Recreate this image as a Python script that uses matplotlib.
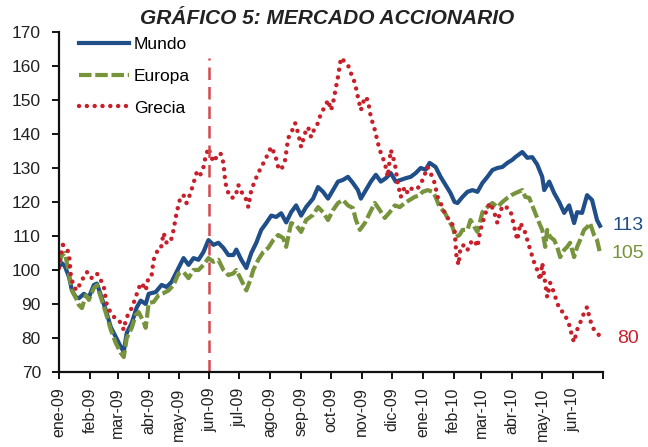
import matplotlib
matplotlib.use('Agg')
import matplotlib.pyplot as plt
import matplotlib.transforms as mtransforms
import numpy as np

plt.rcParams['font.family'] = ['Liberation Sans', 'DejaVu Sans']

# days counted from 01-ene-2009
mundo_day = [0, 3, 6, 10, 13, 17, 20, 25, 30, 35, 38, 42, 47, 52, 57, 62, 65, 68, 73, 78,
             82, 87, 90, 97, 103, 108, 113, 120, 125, 130, 135, 140, 145, 150, 155, 160,
             165, 170, 175, 178, 183, 188, 193, 198, 203, 208, 213, 218, 223, 228, 233, 238,
             243, 248, 255, 260, 265, 270, 275, 280, 285, 290, 295, 300, 303, 308, 313, 318,
             323, 328, 333, 338, 343, 348, 353, 358, 363, 368, 372, 378, 383, 388, 393, 397,
             400, 405, 410, 415, 420, 425, 430, 435, 440, 445, 450, 455, 458, 465, 470, 475,
             480, 485, 487, 492, 497, 502, 507, 512, 517, 520, 525, 530, 535, 540, 543]
mundo = [101, 102, 101, 98, 94, 92, 91.7, 93, 92, 95.6, 96, 92.6, 88.2, 83.2, 80.3, 77.4, 76,
         81.5, 84.4, 89, 91, 90, 93, 93.5, 95.6, 95, 96.5, 100.6, 103.5, 101.5, 103.5, 103,
         105.3, 108.8, 107.4, 108, 106.5, 104.4, 104.4, 106, 103, 100.6, 105, 108, 111.8,
         113.8, 116, 115.6, 116.7, 114, 117, 119, 116, 118.5, 121, 124.4, 123, 121, 123.5,
         126, 126.5, 127.4, 125.6, 123.5, 121, 123.5, 126, 128, 126, 127, 128.5, 126, 126.5,
         127, 127.4, 128.5, 130, 129.5, 131.5, 130.3, 127.4, 125, 122.6, 120, 119.7, 121.5,
         123, 123.5, 123, 125.6, 127.4, 129.4, 130, 130.3, 131.5, 132.4, 133.2, 134.7, 133,
         133.2, 131, 127.4, 123.5, 126, 122.6, 120, 116.8, 119, 113.8, 117, 116.8, 122,
         120.6, 114.7, 113]

europa_day = [0, 3, 6, 10, 13, 17, 20, 23, 27, 30, 35, 38, 42, 47, 52, 57, 62, 65, 68, 73,
              77, 80, 85, 87, 90, 95, 100, 105, 110, 115, 120, 125, 130, 135, 140, 145, 150,
              155, 160, 165, 170, 175, 178, 183, 188, 192, 195, 200, 205, 210, 215, 220, 225,
              228, 233, 238, 243, 248, 255, 260, 265, 270, 275, 280, 285, 290, 295, 298, 302,
              307, 312, 317, 322, 327, 332, 337, 342, 347, 352, 357, 362, 365, 370, 375, 378,
              382, 387, 390, 395, 398, 402, 405, 410, 413, 417, 420, 425, 430, 435, 440, 445,
              450, 454, 458, 465, 468, 472, 475, 478, 482, 485, 488, 490, 493, 497, 500, 503,
              507, 510, 513, 517, 520, 523, 527, 530, 533, 537, 540, 543]
europa = [102, 104.4, 105, 99, 94, 91.7, 89.7, 88.8, 92.6, 91.2, 94.7, 95.6, 92, 87.4, 82.4,
          78.5, 75.6, 74.4, 80, 83, 86.8, 87.6, 84.7, 83, 90.3, 90.6, 92.6, 93.2, 94, 95.6,
          99, 99.4, 97.6, 100, 100, 101.5, 103.5, 102.4, 103, 100, 98.5, 99, 100, 97, 94, 97,
          100, 103, 105.3, 106.5, 108.8, 110.3, 109.4, 106.8, 113.8, 113.2, 111.2, 114.7,
          116.2, 118.5, 117, 114.7, 117.6, 119.7, 120.6, 119, 118.2, 114.7, 111.8, 113.8,
          116.8, 119.7, 117.6, 115.3, 117, 119, 118.5, 119.7, 120.6, 121.5, 122, 123, 123.5,
          123, 121.5, 118.5, 117, 115.3, 112.6, 109.7, 110.3, 111.8, 111.8, 114.7, 112.6,
          111.2, 117, 118.5, 119.7, 118.5, 120, 121.2, 122, 122.6, 123.5, 121.5, 121.2, 119,
          116.8, 113.8, 111.8, 106.8, 111.8, 109.7, 108.8, 106.8, 103.8, 105.9, 106.8, 108,
          103.8, 106.8, 108.8, 111.8, 112.6, 113.8, 110.3, 108.8, 105]

grecia_day = [0, 1, 4, 7, 10, 12, 15, 18, 22, 25, 28, 32, 35, 38, 42, 45, 48, 52, 55, 58, 62,
              65, 67, 70, 73, 77, 80, 83, 87, 90, 93, 95, 98, 102, 105, 108, 112, 115, 118,
              122, 125, 128, 132, 135, 138, 140, 143, 145, 147, 150, 153, 155, 158, 162, 165,
              167, 170, 173, 177, 180, 183, 187, 190, 193, 197, 200, 203, 207, 210, 213, 217,
              220, 223, 227, 230, 233, 237, 240, 243, 247, 250, 253, 257, 260, 263, 267, 270,
              273, 275, 278, 280, 283, 287, 290, 293, 297, 300, 303, 307, 310, 313, 317, 320,
              323, 327, 330, 333, 337, 340, 343, 347, 350, 353, 357, 360, 365, 370, 373, 377,
              380, 383, 387, 390, 393, 397, 399, 401, 403, 407, 410, 413, 417, 420, 423, 427,
              430, 433, 437, 440, 443, 447, 450, 453, 457, 460, 463, 467, 470, 473, 477, 480,
              483, 485, 488, 490, 493, 497, 500, 503, 507, 510, 513, 515, 517, 520, 523, 527,
              530, 533, 537, 540, 543]
grecia = [100.6, 103, 107.4, 106.5, 105, 98, 95, 94, 96.5, 98, 99.4, 97.6, 98, 99, 97, 95,
          89.7, 87.4, 86.2, 85.9, 84.4, 82.4, 85.3, 87.4, 88.8, 92, 94.7, 96.2, 94, 98, 98.5,
          103, 105.3, 105.9, 110.9, 108, 108.2, 111.8, 116.8, 121.5, 122, 119.7, 122.6, 125.6,
          128.5, 127.4, 128.5, 130.3, 133.2, 135.9, 133.2, 131.8, 133.2, 134.4, 131.5, 125.6,
          122.6, 121.2, 121.5, 125, 123, 121.5, 118.5, 123.5, 126.5, 128.5, 130.3, 132.4,
          134.4, 136.2, 133.8, 130.3, 129.4, 132.4, 138.8, 140.3, 143.2, 140.3, 136.2, 140.3,
          142, 139.1, 142, 143.2, 146.2, 148, 150, 147, 149, 153.8, 156.8, 162.4, 161.2, 160.3,
          157.9, 155, 150.9, 147, 150.9, 150, 145, 141.2, 137.4, 134.4, 131.5, 127.4, 135.3,
          131.5, 125.6, 121.5, 124.4, 122.6, 124, 123.5, 124, 126.5, 130.3, 128.5, 125.6,
          121.5, 119.7, 116.8, 115.3, 114.7, 111.8, 103.8, 101.5, 106.8, 107.4, 105.9, 108,
          108.8, 106.8, 111.8, 115.6, 118.5, 119.7, 116.8, 113.8, 117.6, 119, 118.2, 117.6,
          112.6, 108.8, 113.8, 111.8, 108.8, 105.9, 102.1, 100, 97, 102.1, 96.2, 92, 96.2,
          93.2, 90.3, 88.2, 87.4, 85.3, 83.2, 80.3, 78.8, 82.4, 84.4, 87.4, 89.1, 85.3, 82.4,
          81.5, 80.5]

month_labels = ['ene-09', 'feb-09', 'mar-09', 'abr-09', 'may-09', 'jun-09', 'jul-09', 'ago-09',
                'sep-09', 'oct-09', 'nov-09', 'dic-09', 'ene-10', 'feb-10', 'mar-10', 'abr-10',
                'may-10', 'jun-10']
end_labels = [113, 105, 80]
marker_date = '2009-06-01'

start = np.datetime64('2009-01-01')
def to_dates(days):
    return start + np.array(days).astype('timedelta64[D]')

c_mundo = '#1f4e89'
c_europa = '#77933c'
c_grecia = '#c8202b'

fig = plt.figure(figsize=(6.48, 4.47), dpi=100)
ax = fig.add_axes([59/648, 1-372/447, 544/648, 340/447])

ax.plot(to_dates(mundo_day), mundo, color=c_mundo, lw=3.0, label='Mundo', solid_joinstyle='round')
ax.plot(to_dates(europa_day), europa, color=c_europa, lw=3.0, linestyle=(0, (3, 0.9)), label='Europa')
ax.plot(to_dates(grecia_day), grecia, color=c_grecia, lw=3.2, linestyle=(0, (0.01, 1.75)),
        dash_capstyle='round', label='Grecia')
ax.plot([np.datetime64(marker_date)] * 2, [70, 162.5], color='#d24a4f', lw=1.8,
        linestyle=(0, (5, 2.8)))

ax.set_ylim(70, 170)
ax.set_yticks(np.arange(70, 171, 10))
ticks = np.arange(np.datetime64('2009-01'), np.datetime64('2010-08'), np.timedelta64(1, 'M')).astype('datetime64[D]')
ax.set_xlim(ticks[0], ticks[-1])
ax.set_xticks(ticks)
ax.set_xticklabels(month_labels + [''], rotation=90, fontsize=11.5, color='#222222')
offset = mtransforms.ScaledTranslation(5/100, 0, fig.dpi_scale_trans)
for lab in ax.get_xticklabels():
    lab.set_transform(lab.get_transform() + offset)

ax.tick_params(axis='y', labelsize=12.5, labelcolor='#222222', direction='out', length=5, width=1.3, pad=8)
ax.tick_params(axis='x', direction='out', length=5, width=1.3, pad=6)
for s in ['top', 'right']:
    ax.spines[s].set_visible(False)
for s in ['left', 'bottom']:
    ax.spines[s].set_linewidth(1.6)
    ax.spines[s].set_color('#111111')

ax.legend(loc='upper left', bbox_to_anchor=(0.037, 0.985), frameon=False, fontsize=12.5,
          handlelength=2.9, handletextpad=0.25, labelspacing=0.95, borderpad=0, borderaxespad=0)

for val, col in zip(end_labels, [c_mundo, c_europa, c_grecia]):
    ax.annotate(str(val), xy=(1.0, val), xycoords=('axes fraction', 'data'),
                xytext=(18, 0), textcoords='offset points', ha='center', va='center',
                fontsize=14, color=col)

fig.text(327/648, 1-19/447, 'GRÁFICO 5: MERCADO ACCIONARIO', ha='center', va='center',
         fontsize=15, fontweight='bold', fontstyle='italic', color='#222222')

fig.savefig('out.png', dpi=100)
